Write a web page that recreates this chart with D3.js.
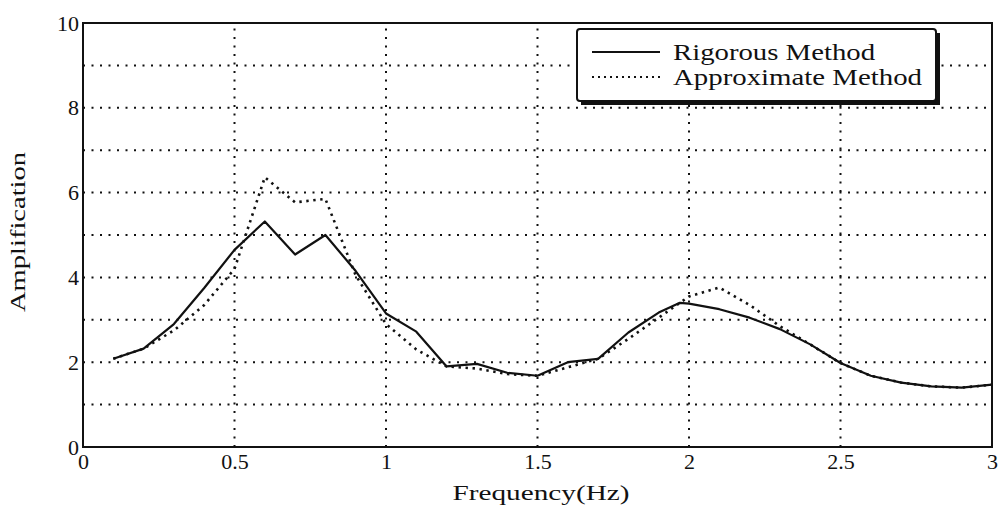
<!DOCTYPE html>
<html>
<head>
<meta charset="utf-8">
<script src="https://cdn.jsdelivr.net/npm/d3@7"></script>
<style>
  html, body { margin: 0; padding: 0; background: #fff; }
  svg { display: block; }
  text { font-family: "Liberation Serif", "DejaVu Serif", serif; fill: #111; }
</style>
</head>
<body>
<div id="chart"></div>
<script>
// frequency samples (Hz)
const freq = [0.1, 0.2, 0.3, 0.4, 0.5, 0.6, 0.7, 0.8, 0.9, 1.0, 1.1, 1.2, 1.3, 1.4, 1.5, 1.6, 1.7, 1.8, 1.9, 1.97, 2.0, 2.1, 2.2, 2.3, 2.4, 2.5, 2.6, 2.7, 2.8, 2.9, 3.0]
// amplification, rigorous method
const rigorous = [2.08, 2.32, 2.9, 3.75, 4.65, 5.32, 4.54, 5.0, 4.15, 3.15, 2.72, 1.9, 1.96, 1.75, 1.68, 2.0, 2.08, 2.7, 3.17, 3.4, 3.38, 3.25, 3.05, 2.78, 2.42, 1.98, 1.68, 1.52, 1.43, 1.40, 1.47]
// amplification, approximate method
const approximate = [2.08, 2.32, 2.75, 3.35, 4.2, 6.36, 5.77, 5.85, 4.05, 2.9, 2.3, 1.9, 1.85, 1.72, 1.68, 1.88, 2.08, 2.55, 3.05, 3.4, 3.55, 3.76, 3.35, 2.85, 2.42, 1.98, 1.68, 1.52, 1.43, 1.40, 1.47]

const xTicks = [0, 0.5, 1, 1.5, 2, 2.5, 3]
const xTickLabels = ['0', '0.5', '1', '1.5', '2', '2.5', '3']
const yTicks = [0, 2, 4, 6, 8, 10]
const yGrid = [1, 2, 3, 4, 5, 6, 7, 8, 9]
const legendLabels = ['Rigorous Method', 'Approximate Method']

const W = 1000, H = 511
const margin = { left: 83, right: 8, top: 23, bottom: 64 }

const svg = d3.select('#chart').append('svg')
  .attr('width', W)
  .attr('height', H)

const x = d3.scaleLinear().domain([0, 3]).range([margin.left, W - margin.right])
const y = d3.scaleLinear().domain([0, 10]).range([H - margin.bottom, margin.top])

// grid lines
const grid = svg.append('g').attr('class', 'grid')
  .attr('stroke', '#111')
  .attr('stroke-width', 2)
  .attr('stroke-dasharray', '2 6.5')

grid.selectAll('.vgrid')
  .data(xTicks.slice(1, -1))
  .join('line')
  .attr('x1', d => x(d)).attr('x2', d => x(d))
  .attr('y1', y(0)).attr('y2', y(10))

grid.selectAll('.hgrid')
  .data(yGrid)
  .join('line')
  .attr('x1', x(0)).attr('x2', x(3))
  .attr('y1', d => y(d)).attr('y2', d => y(d))

// curves
const line = d3.line()
  .x((d, i) => x(freq[i]))
  .y(d => y(d))

svg.append('path')
  .datum(approximate)
  .attr('fill', 'none')
  .attr('stroke', '#111')
  .attr('stroke-width', 2.6)
  .attr('stroke-dasharray', '2.4 4.6')
  .attr('d', line)

svg.append('path')
  .datum(rigorous)
  .attr('fill', 'none')
  .attr('stroke', '#111')
  .attr('stroke-width', 2.2)
  .attr('stroke-linejoin', 'round')
  .attr('d', line)

// frame
svg.append('rect')
  .attr('x', x(0)).attr('y', y(10))
  .attr('width', x(3) - x(0)).attr('height', y(0) - y(10))
  .attr('fill', 'none')
  .attr('stroke', '#111')
  .attr('stroke-width', 2)

// axes
const xAxis = svg.append('g')
  .attr('transform', `translate(0,${y(0)})`)
  .call(d3.axisBottom(x).tickValues(xTicks).tickFormat((d, i) => xTickLabels[i]).tickSize(0).tickPadding(6))
xAxis.select('.domain').remove()
xAxis.selectAll('text')
  .attr('font-family', '"Liberation Serif", serif')
  .attr('font-size', 22)
  .attr('fill', '#111')

const yAxis = svg.append('g')
  .attr('transform', `translate(${x(0)},0)`)
  .call(d3.axisLeft(y).tickValues(yTicks).tickSize(0).tickPadding(4))
yAxis.select('.domain').remove()
yAxis.selectAll('text')
  .attr('font-family', '"Liberation Serif", serif')
  .attr('font-size', 22)
  .attr('fill', '#111')

// axis titles
svg.append('text')
  .attr('x', 541).attr('y', 500)
  .attr('text-anchor', 'middle')
  .attr('font-size', 21)
  .attr('textLength', 177)
  .attr('lengthAdjust', 'spacingAndGlyphs')
  .text('Frequency(Hz)')

svg.append('text')
  .attr('transform', 'translate(25,232) rotate(-90)')
  .attr('text-anchor', 'middle')
  .attr('font-size', 21)
  .attr('textLength', 160)
  .attr('lengthAdjust', 'spacingAndGlyphs')
  .text('Amplification')

// legend
const lg = svg.append('g').attr('class', 'legend')
const box = { x: 577, y: 29, w: 359, h: 72 }
lg.append('rect')
  .attr('x', box.x + 4).attr('y', box.y + 4)
  .attr('width', box.w).attr('height', box.h)
  .attr('fill', '#111')
lg.append('rect')
  .attr('x', box.x).attr('y', box.y)
  .attr('width', box.w).attr('height', box.h)
  .attr('rx', 3)
  .attr('fill', '#fff')
  .attr('stroke', '#111')
  .attr('stroke-width', 2)

const rows = lg.selectAll('.row')
  .data(legendLabels)
  .join('g')
  .attr('class', 'row')
  .attr('transform', (d, i) => `translate(0,${52 + i * 25})`)

rows.append('line')
  .attr('x1', 592).attr('x2', 660)
  .attr('y1', 0).attr('y2', 0)
  .attr('stroke', '#111')
  .attr('stroke-width', (d, i) => i === 0 ? 2 : 2)
  .attr('stroke-dasharray', (d, i) => i === 0 ? null : '2 4')

rows.append('text')
  .attr('x', 673).attr('y', 8)
  .attr('font-size', 23)
  .attr('textLength', (d, i) => i === 0 ? 202 : 249)
  .attr('lengthAdjust', 'spacingAndGlyphs')
  .text(d => d)
</script>
</body>
</html>
